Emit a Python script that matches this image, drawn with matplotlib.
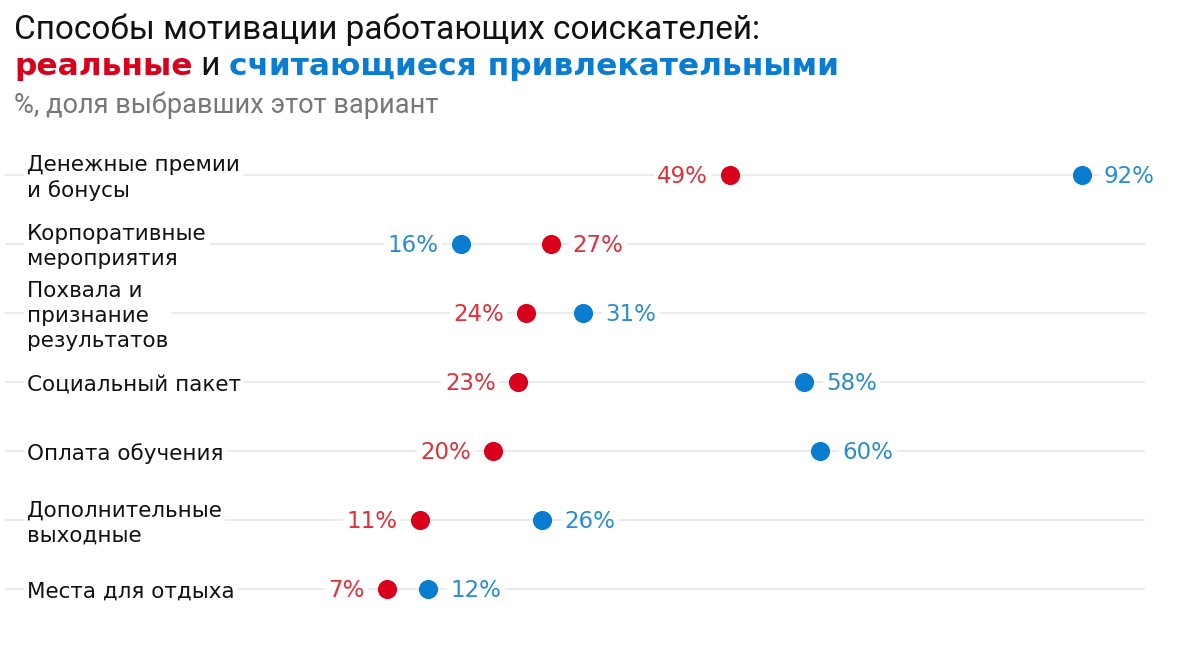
import matplotlib
matplotlib.use('Agg')
from matplotlib import pyplot as plt
import matplotlib.transforms as mtransforms

# data
categories = ['Денежные премии\nи бонусы',
              'Корпоративные\nмероприятия',
              'Похвала и\nпризнание\nрезультатов',
              'Социальный пакет',
              'Оплата обучения',
              'Дополнительные\nвыходные',
              'Места для отдыха']
real = [49, 27, 24, 23, 20, 11, 7]
attractive = [92, 16, 31, 58, 60, 26, 12]

RED = '#d9001b'
BLUE = '#0a7dd1'
RED_TXT = '#e0303c'
BLUE_TXT = '#2b8ccf'

plt.rcParams['font.family'] = ['DejaVu Sans']

fig = plt.figure(figsize=(12, 6.56), dpi=100)
ax = fig.add_axes([0, 0, 1, 1])
ax.set_xlim(-40.39, 106.49)
ax.set_ylim(6.971, -2.536)
ax.axis('off')

rows = list(range(len(categories)))

# faint grid lines behind each row
for i in rows:
    ax.hlines(i, -39.8, 99.75, color='#e6e6e6', lw=1.2, zorder=0)

ax.scatter(real, rows, s=190, color=RED, zorder=3, linewidths=0)
ax.scatter(attractive, rows, s=190, color=BLUE, zorder=3, linewidths=0)

box = dict(boxstyle='square,pad=0.15', fc='white', ec='none')
for i, r, a in zip(rows, real, attractive):
    # smaller value gets label on the left, bigger one on the right
    for v, col, other in ((r, RED_TXT, a), (a, BLUE_TXT, r)):
        if v < other:
            off, ha = -16, 'right'
        else:
            off, ha = 16, 'left'
        ax.annotate(f'{v}%', (v, i), xytext=(off, -1), textcoords='offset points',
                    ha=ha, va='center', fontsize=16.5, color=col, bbox=box,
                    zorder=2)

# category labels on the left
trans = mtransforms.blended_transform_factory(fig.transFigure, ax.transData)
for i, c in zip(rows, categories):
    ax.text(0.0225, i + 0.04, c, transform=trans, ha='left', va='center',
            fontsize=15.5, color='#111111', linespacing=1.3, bbox=box,
            zorder=2)

# title block
title_font = ['Roboto', 'DejaVu Sans']
fig.text(0.012, 0.955, 'Способы мотивации работающих соискателей:',
         fontsize=24, family=title_font, va='center', color='#111111')

fig.canvas.draw()
r = fig.canvas.get_renderer()
x = 0.012
pieces = (('реальные', RED, 'bold', 'DejaVu Sans', 22.5),
          (' и ', '#111111', 'normal', 'Roboto', 24),
          ('считающиеся привлекательными', BLUE, 'bold', 'DejaVu Sans', 22.5))
for txt, col, w, fam, sz in pieces:
    t = fig.text(x, 0.886, txt, fontsize=sz, family=[fam, 'DejaVu Sans'],
                 va='baseline', color=col, fontweight=w)
    bb = t.get_window_extent(renderer=r)
    x += bb.width / fig.bbox.width

fig.text(0.012, 0.84, '%, доля выбравших этот вариант', fontsize=19.5,
         family=title_font, va='center', color='#777777')

fig.savefig('out.png', dpi=100, facecolor='white')
